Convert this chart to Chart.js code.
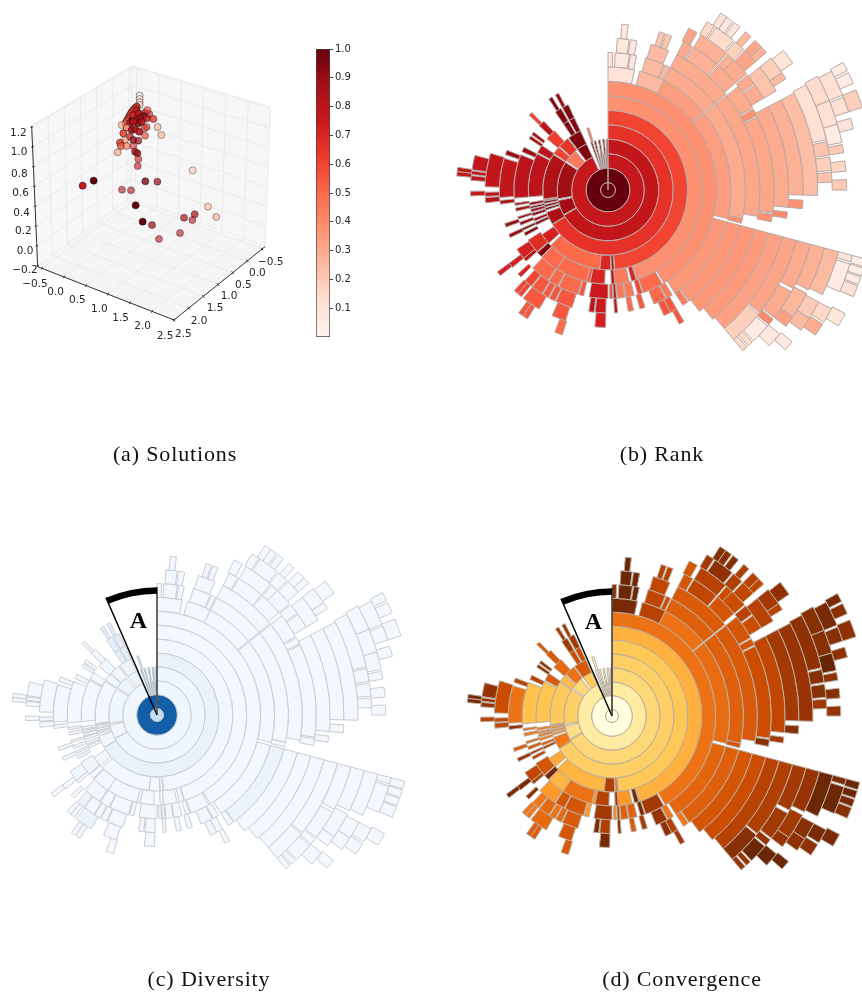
<!DOCTYPE html>
<html><head><meta charset="utf-8">
<style>
html,body{margin:0;padding:0;background:#fff;width:862px;height:994px;overflow:hidden}
#page{position:relative;width:862px;height:994px;overflow:hidden}
canvas{position:absolute}
.cap{position:absolute;font-family:"Liberation Serif",serif;font-size:22px;letter-spacing:0.85px;color:#111;transform:translate(-50%,-50%);white-space:nowrap}
</style>
<script src="https://cdn.jsdelivr.net/npm/chart.js@4/dist/chart.umd.min.js"></script>
</head><body><div id="page">
<canvas id="solutions" width="370" height="300" style="left:0;top:50px"></canvas>
<canvas id="colorbar" width="70" height="305" style="left:300px;top:41px"></canvas>
<canvas id="rank" width="536" height="536" style="left:340px;top:-78px"></canvas>
<canvas id="diversity" width="514" height="514" style="left:-100px;top:458px"></canvas>
<canvas id="convergence" width="514" height="514" style="left:355px;top:459px"></canvas>
<div class="cap" style="left:175px;top:454px">(a) Solutions</div>
<div class="cap" style="left:662px;top:454px">(b) Rank</div>
<div class="cap" style="left:209px;top:979px">(c) Diversity</div>
<div class="cap" style="left:682px;top:979px">(d) Convergence</div>
</div>
<script>
// ---------- Panel (a): solutions, read in the plane of the picture ----------
const solX=[419,419,419,419,410,405,400,395,392,388,386,382,380,376,405,400,395,410,400,415,435,448,442,460,430,420,408,390,415,440,425,400,433,473,484,365,380,395,370,405,418,440,435,390,400,415,375,360,363,380,400,405,412,353,415,413,578,624,649,584,577,552,540,477,456,428,407,436,472,393,366,281,248];
const solY=[137,147,157,165,170,175,180,186,192,198,204,210,214,220,195,205,215,182,195,190,188,192,180,207,198,205,210,220,220,205,215,215,235,231,255,225,233,240,250,238,245,231,257,260,270,272,270,278,288,288,288,305,310,307,327,348,361,470,501,493,510,503,549,567,525,515,466,394,395,421,419,392,407];
const solV=[.08,.1,.12,.15,.66,.65,.62,.6,.6,.58,.58,.55,.55,.52,.7,.72,.75,.7,.7,.8,.85,.8,.6,.65,.9,.85,.85,.85,.9,.8,.85,.8,.6,.3,.3,.3,.4,.85,.6,.85,.8,.7,.65,.8,.85,.9,.4,.6,.55,.5,.7,.8,.9,.35,.75,.8,.2,.25,.3,.85,.85,.85,.85,.8,.9,1,1,.95,.9,.85,.85,1,.75];
const solA=[.7,.7,.7,.7,.95,.95,.95,.95,.95,.95,.95,.95,.95,.95,.9,.9,.9,.9,.9,.9,.7,.6,.6,.8,.9,.9,.9,.9,.9,.8,.9,.9,.6,.6,.6,.6,.9,.9,.9,.9,.9,.6,.6,.7,.8,.7,.6,.9,.8,.6,.6,.8,.8,.6,.6,.6,.6,.6,.6,.7,.6,.7,.6,.6,.7,1,1,.8,.7,.6,.6,1,1];
const xTicks=[-0.5,0,0.5,1,1.5,2,2.5];
const yTicks=[-0.5,0,0.5,1,1.5,2,2.5];
const zTicks=[-0.2,0,0.2,0.4,0.6,0.8,1,1.2];
const xLabelPos=[[105,703],[167,727],[232,752],[298,778],[362,805],[428,830],[495,858]];
const yLabelPos=[[812,637],[772,670],[730,705],[687,740],[645,775],[597,813],[550,852]];
const zLabelPos=[[75,660],[75,603],[70,545],[65,490],[62,430],[58,372],[57,308],[55,250]];
const cornerLT=[95,228],cornerTB=[397,48],cornerRT=[812,172],cornerLB=[113,650],cornerRB=[795,590],cornerF=[522,810],cornerB=[392,445];
const cbTicks=[.1,.2,.3,.4,.5,.6,.7,.8,.9,1];

// ---------- Panels (b,c,d): each ring = [startDeg,endDeg,rank,diversity,convergence] ----------
const ring0=[[0,360,1,.25,.0]];
const ring1=[[0,360,1,.82,.02]];
const ring2=[[0,335,.77,.04,.2],[340,342,1,.7,.1],[344,346,1,.75,.1],[348,350,1,.8,.1],[352,354,1,.8,.1],[356,358,.95,.85,.1],[358.5,359.8,.95,.85,.1]];
const ring3=[[0,240,.78,.04,.3],[241,258,.88,.04,.27],[260,303,.88,.04,.33],[305,320,.45,.05,.3],[323,335,.95,.06,.35],[340,342,.95,.45,.08],[344,346,.95,.4,.08],[349,351,.95,.45,.08],[354,356,.95,.5,.08],[358,359.8,.95,.5,.08]];
const ring4=[[0,238,.66,.07,.33],[238.5,250,.85,.04,.6],[252,254,.95,.03,.55],[255,257,.95,.03,.55],[258,260,.95,.03,.55],[260.5,261.5,.9,.03,.55],[262,303,.84,.03,.35],[304,311,.6,.03,.4],[312,322,.65,.04,.62],[323,335,.95,.05,.7],[341,343,.45,.2,.06]];
const ring5=[[0,175,.6,.03,.36],[175.5,177.5,.85,.02,.62],[178,186,.7,.02,.82],[186,226,.5,.03,.42],[228,236,.72,.03,.45],[244,246,.95,.02,.8],[247,249,.9,.02,.7],[251,253,.95,.02,.6],[254,256,.9,.03,.6],[256.5,258,.95,.03,.6],[259,261,.9,.03,.6],[265,297,.8,.02,.37],[298,304,.8,.02,.7],[310,318,.62,.04,.65],[326,330,.95,.1,.75],[331,335,.95,.1,.75]];
const ring6=[[0,162,.38,.02,.43],[162.5,165.5,.7,.02,.95],[167,176,.45,.02,.5],[176,178,.85,.02,.85],[182,191,.7,.02,.8],[191,193,.55,.02,.5],[193,213,.5,.02,.62],[213,224.5,.5,.03,.42],[225,228.5,.95,.02,.95],[229,238,.68,.04,.72],[241,243,.95,.03,.8],[244.5,246,.95,.03,.85],[248,250,.9,.02,.7],[252,253.5,.9,.02,.65],[257,259,.85,.02,.6],[260.5,262,.85,.02,.65],[265,292,.8,.02,.38],[294,297,.9,.03,.8],[303,305,.85,.02,.9],[306,308,.88,.02,.9],[313,317,.8,.03,.7],[326,330,.95,.1,.85],[331,335,.95,.1,.85]];
const ring7=[[0,149,.38,.02,.62],[150,161,.5,.02,.85],[161.5,164,.6,.02,.95],[166,170.5,.45,.02,.68],[171,175,.45,.02,.68],[175.5,177,.85,.02,.8],[177.5,179,.6,.02,.55],[180,190,.75,.02,.85],[193,195.5,.55,.02,.5],[196,207,.5,.02,.72],[207.5,213,.5,.02,.72],[213.5,224,.5,.03,.5],[229,231,.8,.03,.8],[231,237,.72,.04,.78],[244,246,.9,.03,.9],[250,252,.9,.03,.7],[262.5,264.5,.85,.02,.9],[266,287,.78,.02,.62],[289,291.5,.9,.03,.8],[313.5,315.5,.6,.06,.7],[327,329,.95,.1,.85],[331,333,.9,.1,.85]];
const ring8=[[0,12.5,.1,.02,.96],[15,27,.25,.02,.8],[27,51,.34,.02,.62],[51.5,103.5,.34,.02,.64],[105,147,.36,.02,.66],[148.5,151.5,.45,.02,.6],[152,158,.5,.02,.88],[162.5,165,.55,.02,.85],[168,170.5,.5,.02,.7],[175.5,177,.8,.02,.9],[181,186,.75,.02,.82],[186.5,189,.8,.02,.95],[197,205,.55,.02,.7],[205.5,208.5,.55,.02,.65],[209,212,.55,.02,.62],[212.5,218,.55,.02,.65],[218.5,222.5,.6,.05,.6],[225,227,.7,.03,.9],[231,233.5,.72,.03,.95],[264,266.5,.8,.02,.78],[267,269,.8,.02,.78],[271.5,287.4,.78,.02,.75]];
const ring9=[[0,2,.1,.02,.9],[3,9,.08,.03,.98],[9.5,12,.08,.03,.98],[16,24,.25,.02,.78],[24.5,26.5,.25,.02,.75],[27,51,.3,.02,.68],[51.5,102,.3,.02,.68],[102,104,.38,.02,.72],[105,144,.36,.06,.68],[144.5,147,.45,.02,.6],[150,153,.55,.02,.8],[153,156,.55,.02,.9],[181,185.5,.72,.02,.95],[198,204,.55,.02,.72],[210,218,.55,.06,.65],[219,221,.6,.02,.6],[221,223,.6,.02,.6],[231.5,233.5,.72,.02,.95],[267.5,269.5,.75,.02,.8],[274,276,.8,.02,.88],[276.5,278,.8,.02,.88],[278.5,284.6,.78,.02,.88]];
const ring10=[[3.5,8,.08,.04,.98],[8.5,11,.08,.03,.98],[16.5,23.5,.25,.02,.78],[27,51,.3,.02,.7],[51.5,100,.31,.02,.7],[105,143,.36,.02,.72],[150,152,.55,.02,.85],[197.5,200.5,.5,.02,.7],[212,214,.55,.02,.68],[214,216,.55,.02,.68],[275.3,277,.78,.02,.95],[277,278.6,.78,.02,.95]];
const ring11=[[4.8,7,.06,.03,.98],[18,20,.22,.02,.8],[20.5,22.5,.22,.02,.8],[27,30.5,.3,.02,.72],[31,41,.28,.02,.78],[41.5,50,.3,.02,.72],[51.5,60.5,.3,.02,.72],[61,63.5,.38,.02,.72],[64,98,.31,.02,.75],[98.5,101,.38,.02,.92],[105,141,.35,.02,.75]];
const ring12=[[26.5,29.5,.32,.02,.72],[31,41,.28,.02,.8],[41.5,44,.28,.02,.75],[44,50,.3,.02,.75],[50.5,54,.3,.02,.8],[54.5,59.5,.3,.02,.75],[62.5,95.5,.3,.02,.78],[97,99,.4,.02,.85],[105,140,.33,.02,.8]];
const ring13=[[30.5,33,.15,.02,.85],[33.5,40,.14,.02,.9],[40.5,44,.18,.02,.82],[44.5,49,.32,.02,.78],[51,59.5,.22,.02,.8],[62.5,91.5,.28,.02,.85],[93,95.5,.38,.02,.92],[105,129,.32,.02,.82],[129.5,140,.18,.02,.92]];
const ring14=[[32.5,34.5,.1,.02,.92],[34.5,36.5,.08,.02,.92],[37,39,.1,.02,.92],[41,43,.25,.02,.82],[44.5,47,.32,.02,.8],[47,49,.28,.02,.78],[51,56,.18,.02,.85],[56,58,.25,.02,.8],[62.5,91.5,.24,.02,.88],[105,118,.3,.02,.85],[119,127.5,.3,.02,.85],[128,130,.4,.02,.88],[130.5,136,.06,.02,.98],[136.5,138,.15,.02,.88],[138.5,140,.15,.02,.88]];
const ring15=[[51.5,55.5,.1,.02,.9],[62,77,.12,.02,.9],[77.5,81,.22,.02,.92],[81.5,85,.18,.02,.92],[85.5,88,.22,.02,.85],[105,116.5,.28,.02,.88],[117.5,124.5,.26,.02,.85],[124.5,127.5,.33,.02,.88],[130,134,.08,.02,.98]];
const ring16=[[61.5,68,.14,.02,.92],[68,74,.12,.02,.92],[74,78.5,.05,.02,1],[79,81,.2,.02,.9],[83,85.5,.16,.02,.92],[87.5,90,.2,.02,.88],[105,116,.25,.02,.98],[118,122.5,.2,.02,.92],[122.5,126,.25,.02,.9],[129.5,132,.07,.02,.98]];
const ring17=[[62,68,.12,.02,.95],[68.5,72,.12,.02,.92],[73.5,76,.1,.02,.9],[105,106.5,.1,.02,.95],[107,113.7,.06,.02,.98],[118,121.5,.15,.02,.95],[122,125,.3,.02,.9]];
const ring18=[[61.5,63.5,.06,.02,.95],[64,66.5,.06,.02,.92],[68,72,.18,.02,.9],[105,106.7,.04,.02,.98],[107,108.7,.05,.02,.98],[109,110.7,.06,.02,.95],[111,113.5,.12,.02,.92],[117.5,120.5,.08,.02,.95]];
const rings=[ring0,ring1,ring2,ring3,ring4,ring5,ring6,ring7,ring8,ring9,ring10,ring11,ring12,ring13,ring14,ring15,ring16,ring17,ring18];

// ---------- Colour maps ----------
const REDS=['#fff5f0','#fee0d2','#fcbba1','#fc9272','#fb6a4a','#ef3b2c','#cb181d','#a50f15','#67000d'];
const BLUES=['#f7fbff','#deebf7','#c6dbef','#9ecae1','#6baed6','#4292c6','#2171b5','#08519c','#08306b'];
const YLORBR=['#ffffe5','#fff7bc','#fee391','#fec44f','#fe9929','#ec7014','#cc4c02','#993404','#662506'];
function rgb(h){return [1,3,5].map(i=>parseInt(h.substr(i,2),16));}
function cmap(stops,t,a){
  t=Math.min(1,Math.max(0,t));const p=t*(stops.length-1),i=Math.min(stops.length-2,Math.floor(p)),f=p-i;
  const A=rgb(stops[i]),B=rgb(stops[i+1]),c=A.map((v,k)=>Math.round(v+(B[k]-v)*f));
  return `rgba(${c[0]},${c[1]},${c[2]},${a===undefined?1:a})`;
}
const FONT='"DejaVu Sans",sans-serif';

// ---------- Sunburst builder ----------
function sunburst(id,stops,col,centerWeight,border,extra){
  const datasets=rings.map((segs,ri)=>{
    const data=[],bg=[],bw=[];let cur=0;
    segs.slice().sort((a,b)=>a[0]-b[0]).forEach(s=>{
      const st=Math.max(s[0],cur);
      if(st>cur){data.push(st-cur);bg.push('rgba(0,0,0,0)');bw.push(0);}
      data.push(s[1]-st);bg.push(cmap(stops,s[col]));bw.push(1);cur=s[1];
    });
    if(cur<360){data.push(360-cur);bg.push('rgba(0,0,0,0)');bw.push(0);}
    return {data,backgroundColor:bg,borderWidth:bw,borderColor:border,weight:ri===0?centerWeight:1,hoverOffset:0};
  }).reverse();
  return new Chart(document.getElementById(id),{type:'doughnut',
    data:{labels:[],datasets},
    options:{responsive:false,animation:false,devicePixelRatio:1,cutout:0,rotation:0,
      layout:{padding:0},events:[],plugins:{legend:{display:false},tooltip:{enabled:false}}},
    plugins:extra?[extra]:[]});
}
const wedgeA={id:'wedgeA',afterDatasetsDraw(c){
  const ctx=c.ctx,cx=(c.chartArea.left+c.chartArea.right)/2,cy=(c.chartArea.top+c.chartArea.bottom)/2;
  const a0=-Math.PI/2-23.5*Math.PI/180,a1=-Math.PI/2;
  ctx.save();
  ctx.strokeStyle='#000';ctx.lineWidth=1.4;
  ctx.beginPath();ctx.moveTo(cx+128*Math.cos(a0),cy+128*Math.sin(a0));ctx.lineTo(cx,cy);ctx.stroke();
  ctx.strokeStyle='#333';ctx.beginPath();ctx.moveTo(cx,cy);ctx.lineTo(cx,cy-128);ctx.stroke();
  ctx.strokeStyle='#000';ctx.lineWidth=6.5;ctx.beginPath();ctx.arc(cx,cy,124.5,a0,a1);ctx.stroke();
  ctx.fillStyle='#000';ctx.font='bold 24px "Liberation Serif",serif';ctx.textAlign='center';ctx.textBaseline='middle';
  ctx.fillText('A',cx-18.5,cy-93);
  ctx.restore();
}};
sunburst('rank',REDS,2,0.52,'#b5a9a6');
sunburst('diversity',BLUES,3,0.47,'#c9cdd2',wedgeA);
sunburst('convergence',YLORBR,4,0.47,'#b8ad9f',wedgeA);

// ---------- Panel (a) ----------
function lerp(a,b,t){return [a[0]+(b[0]-a[0])*t,a[1]+(b[1]-a[1])*t];}
const axisT=v=>(v+0.6)/3.1, zT=v=>(v+0.21)/1.42;
const cube={id:'cube',
  beforeDatasetsDraw(c){
    const ctx=c.ctx,X=c.scales.x,Y=c.scales.y,P=p=>[X.getPixelForValue(p[0]),Y.getPixelForValue(p[1])];
    const poly=(pts,f)=>{ctx.beginPath();pts.map(P).forEach((p,i)=>i?ctx.lineTo(p[0],p[1]):ctx.moveTo(p[0],p[1]));ctx.closePath();ctx.fillStyle=f;ctx.fill();};
    const path=(pts)=>{ctx.beginPath();pts.map(P).forEach((p,i)=>i?ctx.lineTo(p[0],p[1]):ctx.moveTo(p[0],p[1]));ctx.stroke();};
    ctx.save();
    poly([cornerLT,cornerTB,cornerB,cornerLB],'#f7f7f7');
    poly([cornerTB,cornerRT,cornerRB,cornerB],'#f6f6f6');
    poly([cornerLB,cornerB,cornerRB,cornerF],'#f5f5f5');
    ctx.strokeStyle='#ebebeb';ctx.lineWidth=1;
    xTicks.forEach(v=>{const t=axisT(v),a=lerp(cornerLB,cornerF,t),b=lerp(cornerB,cornerRB,t),d=lerp(cornerTB,cornerRT,t);path([a,b,d]);});
    yTicks.forEach(v=>{const t=axisT(v),a=lerp(cornerRB,cornerF,t),b=lerp(cornerB,cornerLB,t),d=lerp(cornerTB,cornerLT,t);path([a,b,d]);});
    zTicks.forEach(v=>{const t=zT(v),a=lerp(cornerLB,cornerLT,t),b=lerp(cornerB,cornerTB,t),d=lerp(cornerRB,cornerRT,t);path([a,b,d]);});
    ctx.strokeStyle='#eeeeee';ctx.lineWidth=1.5;path([cornerLT,cornerTB,cornerRT]);path([cornerTB,cornerB]);
    ctx.strokeStyle='#333';ctx.lineWidth=1;
    path([cornerLT,cornerLB,cornerF,cornerRB]);
    xTicks.forEach(v=>{const a=lerp(cornerLB,cornerF,axisT(v));path([[a[0]-2,a[1]+4],[a[0]+2,a[1]-4]]);});
    yTicks.forEach(v=>{const a=lerp(cornerRB,cornerF,axisT(v));path([[a[0]+3,a[1]+4],[a[0]-3,a[1]-4]]);});
    zTicks.forEach(v=>{const a=lerp(cornerLB,cornerLT,zT(v));path([[a[0]-4,a[1]+1],[a[0]+4,a[1]-1]]);});
    ctx.fillStyle='#262626';ctx.font='10.5px '+FONT;ctx.textAlign='center';ctx.textBaseline='middle';
    const fmt=v=>(v<0?'\u2212':'')+Math.abs(v).toFixed(1);
    [[xTicks,xLabelPos],[yTicks,yLabelPos],[zTicks,zLabelPos]].forEach(([tk,pos])=>tk.forEach((v,i)=>{const p=P(pos[i]);ctx.fillText(fmt(v),p[0],p[1]);}));
    ctx.restore();
  }};
new Chart(document.getElementById('solutions'),{type:'scatter',
  data:{datasets:[{data:solX.map((x,i)=>({x,y:solY[i]})),
    pointRadius:3.5,pointBorderWidth:0.8,
    pointBackgroundColor:solV.map((v,i)=>cmap(REDS,v,solA[i])),
    pointBorderColor:solA.map(a=>`rgba(20,20,20,${a*0.8})`),clip:false}]},
  options:{responsive:false,animation:false,devicePixelRatio:1,layout:{padding:0,autoPadding:false},events:[],
    scales:{x:{type:'linear',min:0,max:1110,display:false},y:{type:'linear',min:0,max:900,reverse:true,display:false}},
    plugins:{legend:{display:false},tooltip:{enabled:false}}},
  plugins:[cube]});

// ---------- Colour bar ----------
new Chart(document.getElementById('colorbar'),{type:'bar',
  data:{labels:[''],datasets:[{data:[[0,1]],barPercentage:1,categoryPercentage:1,borderSkipped:false,borderWidth:1,borderColor:'#444',
    backgroundColor(ctx){const a=ctx.chart.chartArea;if(!a)return '#fff';
      const g=ctx.chart.ctx.createLinearGradient(0,a.bottom,0,a.top);
      REDS.forEach((c,i)=>g.addColorStop(i/(REDS.length-1),c));return g;}}]},
  options:{responsive:false,animation:false,devicePixelRatio:1,events:[],
    layout:{padding:{left:16,top:7,bottom:9},autoPadding:false},
    scales:{x:{display:false},
      y:{position:'right',min:0,max:1,
        afterBuildTicks(s){s.ticks=cbTicks.map(value=>({value}));},
        afterFit(s){s.width=40;},
        border:{display:false},
        grid:{drawOnChartArea:false,drawTicks:true,tickLength:3,color:'#444'},
        ticks:{font:{family:'"DejaVu Sans"',size:10},color:'#262626',padding:2,autoSkip:false,callback:v=>v.toFixed(1)}}},
    plugins:{legend:{display:false},tooltip:{enabled:false}}}});
</script>
</body></html>
